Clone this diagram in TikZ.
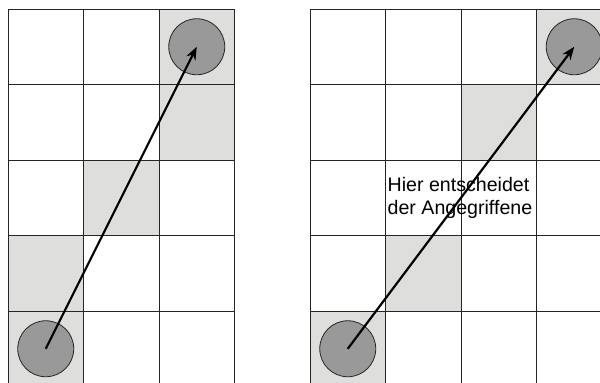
\documentclass[tikz,border=0pt]{standalone}
\usepackage{fontspec}
\setmainfont{Liberation Sans}
\usepackage{xcolor}
\usepackage{tikz}
\usetikzlibrary{arrows.meta, positioning}
\definecolor{cellgray}{RGB}{222,222,220}
\definecolor{piecegray}{RGB}{153,153,153}
\definecolor{linegray}{RGB}{40,36,36}

\begin{document}
\begin{tikzpicture}[
    x=1pt, y=-1pt,
    cell/.style={fill=cellgray},
    gridline/.style={draw=linegray, line width=1pt},
    piece/.style={circle, draw=linegray, line width=0.8pt, fill=piecegray, minimum size=56pt, inner sep=0pt},
    move/.style={-{Stealth[length=13pt, width=10pt]}, line width=2.2pt, black}
]
\clip (0,0) rectangle (600,383);
\fill[white] (0,0) rectangle (600,383);

% left board
\fill[cell] (159,9) rectangle (234.5,160);
\fill[cell] (83.5,160) rectangle (159,235.5);
\fill[cell] (8,235.5) rectangle (83.5,386.5);
\draw[gridline] (8,9) -- (8,390) (83.5,9) -- (83.5,390) (159,9) -- (159,390) (234.5,9) -- (234.5,390);
\draw[gridline] (8,9) -- (234.5,9) (8,84.5) -- (234.5,84.5) (8,160) -- (234.5,160)
    (8,235.5) -- (234.5,235.5) (8,311) -- (234.5,311);

% right board
\fill[cell] (536.5,9) rectangle (612,84.5);
\fill[cell] (461,84.5) rectangle (536.5,160);
\fill[cell] (385.5,235.5) rectangle (461,311);
\fill[cell] (310,311) rectangle (385.5,386.5);
\draw[gridline] (310,9) -- (310,390) (385.5,9) -- (385.5,390) (461,9) -- (461,390) (536.5,9) -- (536.5,390);
\draw[gridline] (310,9) -- (612,9) (310,84.5) -- (612,84.5) (310,160) -- (612,160)
    (310,235.5) -- (612,235.5) (310,311) -- (612,311);

\node[piece] (startL) at (45.75,348.75) {};
\node[piece] (goalL) at (196.75,46.75) {};
\node[piece] (startR) at (347.75,348.75) {};
\node[piece] (goalR) at (574.25,46.75) {};

\node[anchor=west, align=left, inner sep=0pt, font=\fontsize{19.6}{23.5}\selectfont] (note) at (387.5,198) {Hier entscheidet\\der Angegriffene};

\draw[move] (startL.center) -- (goalL.center);
\draw[move] (startR.center) -- (goalR.center);
\end{tikzpicture}
\end{document}
